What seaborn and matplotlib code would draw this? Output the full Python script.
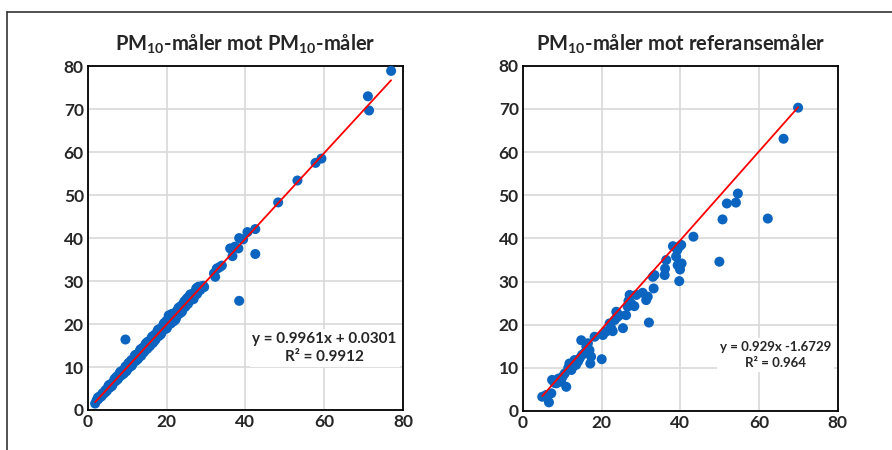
import numpy as np
import pandas as pd
import matplotlib.pyplot as plt
from matplotlib.lines import Line2D
import seaborn as sns

# PM10-måler mot PM10-måler
left_x = [1.8, 2.2, 2.6, 3.0, 3.3, 3.7, 4.0, 4.4, 4.8, 5.1, 5.5, 5.9, 6.2, 6.6, 7.0,
          7.3, 7.7, 8.0, 8.4, 8.8, 9.1, 9.5, 9.9, 10.2, 10.6, 11.0, 11.3, 11.7, 12.1,
          12.4, 12.8, 13.2, 13.5, 13.9, 14.3, 14.6, 15.0, 15.4, 15.8, 16.1, 16.5, 16.9,
          17.2, 17.6, 18.0, 18.3, 18.7, 19.1, 19.5, 19.8, 20.2, 20.6, 21.0, 21.3, 21.7,
          22.1, 22.4, 22.8, 23.2, 23.6, 23.9, 24.3, 24.7, 25.1, 25.4, 25.8, 26.2, 26.6,
          26.9, 27.3, 27.7, 28.1, 28.5, 28.9, 29.3,
          2.5, 3.5, 4.5, 5.3, 6.0, 6.8, 7.5, 8.2, 9.0, 9.7, 10.4, 11.1, 11.9, 12.6,
          13.3, 14.0, 14.8, 15.5, 16.3, 17.0, 17.8, 18.5, 19.3, 20.0, 20.8, 21.5, 22.2,
          23.0, 23.8, 24.5, 25.3, 26.0, 26.8, 27.5, 28.3, 29.5, 32.0, 33.0, 34.0,
          20.5, 21.2, 21.8, 20.0, 22.6, 25.0, 26.4, 27.8, 12.0, 15.2, 18.6,
          9.5, 32.3, 32.7, 33.5, 36.1, 36.7, 37.3, 38.2, 38.4, 38.4, 39.4, 40.5,
          42.5, 42.5, 48.3, 53.2, 57.8, 59.3, 71.1, 71.4, 77.0]
left_y = [1.5, 2.3, 2.5, 3.2, 3.1, 3.9, 3.8, 4.6, 4.5, 5.4, 5.2, 6.1, 5.8, 6.9, 6.7,
          7.8, 7.4, 8.5, 8.0, 9.2, 8.6, 10.1, 9.3, 10.8, 10.0, 11.6, 10.7, 12.2, 11.4,
          12.9, 12.1, 13.8, 12.6, 14.5, 13.6, 15.3, 14.2, 15.9, 15.0, 16.7, 15.6, 17.5,
          16.5, 18.3, 17.2, 18.9, 18.1, 19.8, 18.8, 20.6, 19.5, 21.3, 20.1, 21.9, 20.6,
          22.6, 21.5, 23.3, 22.4, 24.2, 23.1, 24.9, 24.0, 25.6, 24.7, 26.6, 25.6, 27.0,
          26.3, 27.7, 27.0, 28.7, 27.9, 28.8, 28.9,
          2.9, 3.3, 4.2, 5.8, 5.5, 7.3, 7.1, 8.9, 8.4, 9.0, 11.0, 10.3, 12.6, 11.8,
          14.1, 13.3, 15.6, 14.7, 17.1, 16.2, 18.7, 17.6, 20.2, 19.0, 21.9, 22.4, 21.0,
          23.8, 22.8, 25.3, 26.1, 26.9, 25.8, 28.3, 28.6, 28.6, 31.8, 33.0, 33.6,
          22.0, 22.3, 21.0, 20.8, 23.0, 25.8, 26.9, 28.5, 12.8, 15.9, 18.0,
          16.4, 31.0, 32.9, 33.3, 37.6, 35.8, 38.0, 37.6, 25.4, 40.0, 39.7, 41.4,
          36.3, 42.1, 48.3, 53.4, 57.5, 58.5, 73.0, 69.7, 78.9]
left_fit = (0.9961, 0.0301)
left_r2 = '0.9912'
left_line = (0.9961, 0.0301)   # trend line as drawn

# PM10-måler mot referansemåler
right_x = [4.9, 5.9, 7.2, 6.6, 7.4, 8.5, 9.7, 10.1, 11.0, 10.6, 11.8, 12.7, 12.3, 13.1,
           13.5, 14.4, 14.8, 15.6, 16.1, 16.5, 16.9, 17.1, 17.3, 18.2, 20.0, 20.3, 21.1,
           22.0, 22.4, 22.8, 23.3, 23.7, 24.5, 25.4, 26.2, 26.6, 27.1, 27.5, 28.3, 28.8,
           30.4, 31.3, 31.7, 32.0, 33.0, 33.4, 33.2, 36.0, 36.1, 36.4, 38.1, 38.9, 39.3,
           39.7, 40.2, 39.7, 39.9, 40.3, 39.2, 43.3, 49.9, 50.7, 51.8, 54.1, 54.6, 62.2,
           66.2, 69.9, 8.0, 9.0, 11.5, 14.0, 15.0, 22.5, 24.0, 26.8]
right_y = [3.3, 3.7, 4.1, 2.0, 7.2, 6.4, 6.8, 8.0, 5.6, 8.7, 11.0, 10.3, 9.5, 11.8,
           10.7, 12.2, 16.4, 13.4, 14.9, 15.7, 14.1, 11.0, 12.6, 17.2, 12.0, 17.6, 18.4,
           20.3, 19.2, 18.5, 21.1, 23.0, 22.2, 19.2, 22.2, 24.2, 26.9, 24.9, 24.3, 26.9,
           27.4, 25.7, 26.5, 20.5, 31.1, 31.5, 28.4, 31.5, 33.0, 35.0, 38.2, 35.8, 33.8,
           38.1, 38.5, 30.1, 32.8, 34.2, 37.3, 40.4, 34.6, 44.4, 48.1, 48.3, 50.4, 44.6,
           63.1, 70.3, 6.5, 7.5, 10.0, 11.5, 13.0, 18.8, 21.8, 25.5]
right_fit = (0.929, -1.6729)
right_r2 = '0.964'
right_line = (1.03, -1.6)   # trend line as drawn in the original

sns.set_style('whitegrid')
plt.rcParams['font.family'] = ['Lato', 'DejaVu Sans']
plt.rcParams['mathtext.fontset'] = 'custom'
plt.rcParams['mathtext.rm'] = 'Lato'
plt.rcParams['mathtext.bf'] = 'Lato:bold'

blue = '#0A64C0'

fig = plt.figure(figsize=(8.92, 4.5), dpi=100)
ax1 = fig.add_axes([0.0987, 0.0889, 0.353, 0.764])
ax2 = fig.add_axes([0.5863, 0.0867, 0.353, 0.767])

panels = [
    (ax1, left_x, left_y, left_line, left_r2,
     r'PM$_{\mathbf{10}}$-måler mot PM$_{\mathbf{10}}$-måler',
     'y = {:.4f}x + {:.4f}'.format(*left_fit), (60.1, 14.4), 11),
    (ax2, right_x, right_y, right_line, right_r2,
     r'PM$_{\mathbf{10}}$-måler mot referansemåler',
     'y = {}x {}'.format(right_fit[0], right_fit[1]), (64.1, 13.0), 9.5),
]

for ax, xs, ys, line, r2, title, eq, pos, fs in panels:
    df = pd.DataFrame({'x': xs, 'y': ys})
    sns.scatterplot(data=df, x='x', y='y', ax=ax, color=blue, s=52,
                    edgecolor='none', zorder=3)
    xr = np.array([min(xs), max(xs)])
    ax.plot(xr, line[0] * xr + line[1], color='red', lw=1.3, zorder=4)
    ax.set_xlim(0, 80)
    ax.set_ylim(0, 80)
    ax.set_xticks(range(0, 81, 20))
    ax.set_yticks(range(0, 81, 10))
    ax.set_xlabel('')
    ax.set_ylabel('')
    ax.grid(True, color='#d9d9d9', lw=1.2)
    for sp in ax.spines.values():
        sp.set_color('black')
        sp.set_linewidth(1.3)
    ax.tick_params(labelsize=12.5, pad=3, length=0)
    for lab in ax.get_xticklabels() + ax.get_yticklabels():
        lab.set_fontweight('bold')
    ax.set_title(title, fontsize=14.5, fontweight='bold', pad=11)
    ax.text(pos[0], pos[1], eq + '\nR² = ' + r2, ha='center', va='center',
            fontsize=fs, fontweight='bold', linespacing=1.4, zorder=5,
            bbox=dict(facecolor='white', edgecolor='none', pad=2))

# outer frame
fig.add_artist(Line2D([0.008, 0.008], [0, 0.973], color='#333333', lw=1.2))
fig.add_artist(Line2D([0.008, 1.0], [0.973, 0.973], color='#333333', lw=1.2))

fig.savefig('out.png', dpi=100)
